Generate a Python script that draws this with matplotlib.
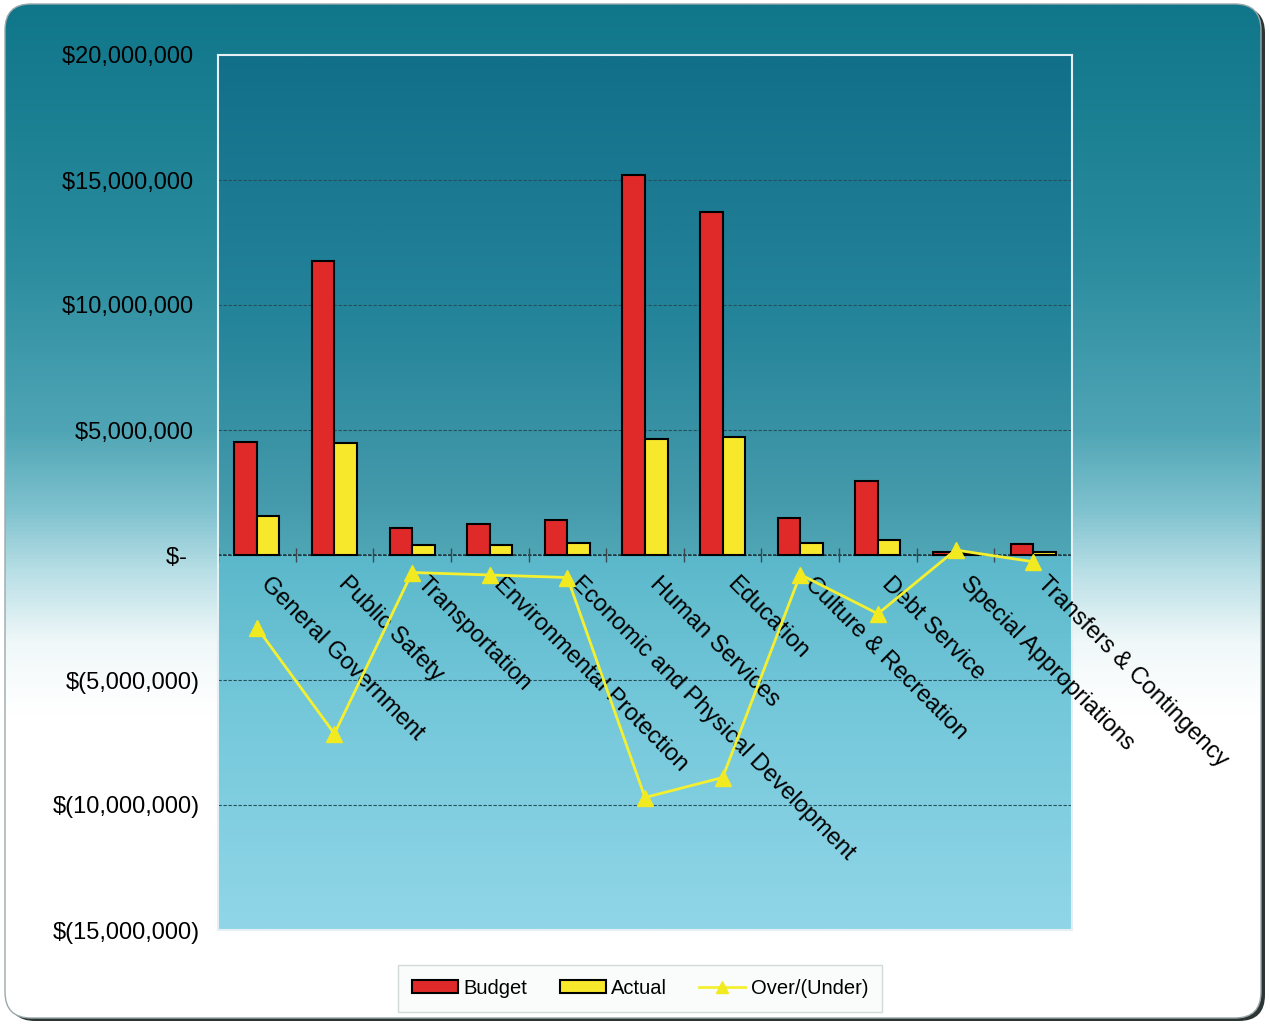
import numpy as np
import matplotlib
matplotlib.use("Agg")
import matplotlib.pyplot as plt
from matplotlib.colors import LinearSegmentedColormap
from matplotlib.patches import FancyBboxPatch, Patch
from matplotlib.lines import Line2D
from matplotlib.ticker import FuncFormatter

plt.rcParams['font.family'] = ['Liberation Sans', 'DejaVu Sans']

# values in millions of dollars
categories = ["General Government", "Public Safety", "Transportation",
              "Environmental Protection", "Economic and Physical Development",
              "Human Services", "Education", "Culture & Recreation",
              "Debt Service", "Special Appropriations", "Transfers & Contingency"]
budget = [4.52, 11.75, 1.10, 1.24, 1.42, 15.20, 13.72, 1.50, 2.96, 0.12, 0.45]
actual = [1.55, 4.47, 0.39, 0.42, 0.48, 4.64, 4.71, 0.50, 0.62, 0.10, 0.12]
over_under = [-2.90, -7.15, -0.70, -0.80, -0.90, -9.70, -8.90, -0.78, -2.35, 0.20, -0.27]

M = 1e6
W, H = 1270, 1024


def gradient(stops, n=512):
    cmap = LinearSegmentedColormap.from_list("g", stops)
    return cmap(np.linspace(0, 1, n))[:, None, :]


fig = plt.figure(figsize=(W / 100, H / 100), dpi=100)
fig.patch.set_facecolor("white")

# rounded background panel with vertical gradient
bg = fig.add_axes([0, 0, 1, 1])
shadow = FancyBboxPatch((9, 3), 1256, 1014, boxstyle="round,pad=0,rounding_size=26",
                        facecolor="#2c3434", edgecolor="none", zorder=-3)
bg.add_patch(shadow)
panel = FancyBboxPatch((5, 6), 1256, 1014, boxstyle="round,pad=0,rounding_size=26",
                       facecolor="none", edgecolor="#9aa8aa", lw=1, zorder=2)
bg.add_patch(panel)
fig_stops = [(0.00, "#10768a"), (0.25, "#2a8c9e"), (0.42, "#4fa5b5"),
             (0.50, "#80c2cf"), (0.56, "#b8dfe6"), (0.63, "#f0f8f9"),
             (0.70, "#ffffff"), (1.00, "#ffffff")]
im = bg.imshow(gradient(fig_stops), extent=(5, 1261, 6, 1020), aspect="auto",
               origin="upper", zorder=-1)
im.set_clip_path(panel)
bg.set_xlim(0, W)
bg.set_ylim(0, H)
bg.axis("off")

# plot area
ax = fig.add_axes([218 / W, 1 - 930 / H, (1072 - 218) / W, (930 - 55) / H])
x = np.arange(len(categories))
ymin, ymax = -15 * M, 20 * M
z = ymax / (ymax - ymin)
area_stops = [(0.0, "#126f8a"), (0.3, "#24849a"), (0.5, "#4399aa"),
              (z - 0.001, "#4fa6b5"), (z, "#5ab8ca"), (0.75, "#74c8da"),
              (1.0, "#90d6e8")]
ax.imshow(gradient(area_stops, 1024), extent=(0, 1, 0, 1), transform=ax.transAxes,
          aspect="auto", origin="upper", zorder=0)

ax.bar(x - 0.145, np.array(budget) * M, 0.29, color="#e02a2a", edgecolor="black",
       lw=1.5, zorder=3)
ax.bar(x + 0.145, np.array(actual) * M, 0.29, color="#f8e82c", edgecolor="black",
       lw=1.5, zorder=3)

ax.axhline(0, color="#203840", lw=1.2, ls=(0, (2, 1)), zorder=2)
ax.plot(np.arange(len(categories) + 1) - 0.5, np.zeros(len(categories) + 1),
        ls="none", marker="|", ms=10, color="#3a4a50", zorder=2)

for i, c in enumerate(categories):
    ax.text(i, -0.7 * M, c, rotation=-45, ha="left", va="top", fontsize=17,
            color="black", zorder=5)

ax.plot(x, np.array(over_under) * M, color="#f4f030", lw=2, marker="^", ms=11,
        mfc="#f2ea20", mec="#f2ea20", zorder=6)

ax.set_xlim(-0.5, len(categories) - 0.5)
ax.set_ylim(ymin, ymax)
ax.set_xticks([])
ax.set_yticks(np.arange(-15, 21, 5) * M)


def money(v, pos):
    if v == 0:
        return "$-  "
    if v > 0:
        return "${:,.0f} ".format(v)
    return "$({:,.0f})".format(-v)


ax.yaxis.set_major_formatter(FuncFormatter(money))
ax.tick_params(axis="y", length=0, pad=13, labelsize=17)
ax.grid(axis="y", color="#24505c", lw=0.8, ls=(0, (3, 1.5)), zorder=1)
for s in ax.spines.values():
    s.set_color("#e6f0f2")
    s.set_linewidth(1.5)

handles = [Patch(facecolor="#e02a2a", edgecolor="black", lw=1.5, label="Budget"),
           Patch(facecolor="#f8e82c", edgecolor="black", lw=1.5, label="Actual"),
           Line2D([], [], color="#f4f030", lw=2, marker="^", ms=9,
                  mfc="#f2ea20", mec="#f2ea20", label="Over/(Under)")]
leg = fig.legend(handles=handles, loc="center", bbox_to_anchor=(0.504, 0.035),
                 ncol=3, frameon=True, fancybox=False, fontsize=14.5,
                 handlelength=2.3, handleheight=0.6, handletextpad=0.25,
                 columnspacing=1.6, borderpad=0.7, borderaxespad=0)
leg.get_frame().set_facecolor("#f9fcfc")
leg.get_frame().set_edgecolor("#c8d0d0")
leg._legend_box.sep = 0

fig.savefig("out.png", dpi=100)
